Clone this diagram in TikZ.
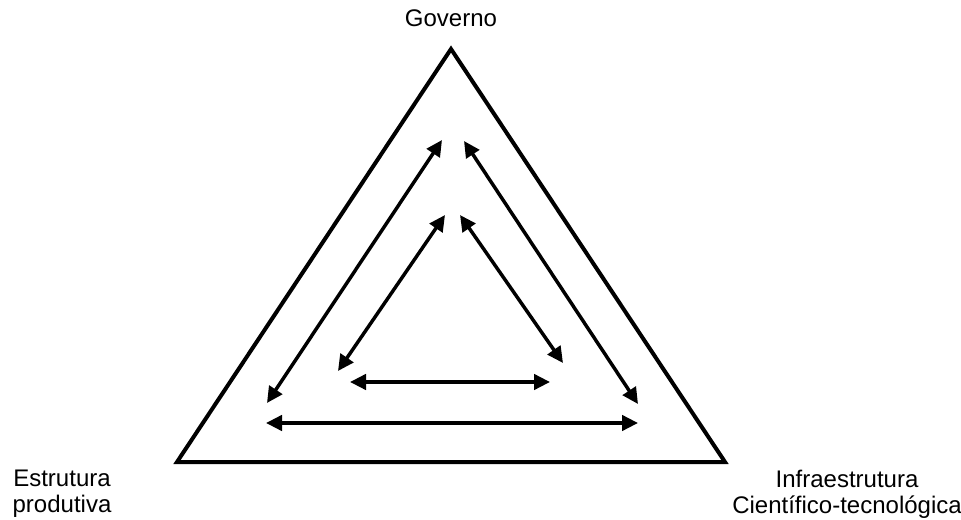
\documentclass[tikz,border=0pt]{standalone}
\usepackage{fontspec}
\setmainfont{Liberation Sans}
\usetikzlibrary{arrows.meta}
\begin{document}
\begin{tikzpicture}[x=0.75pt,y=-0.75pt,font=\fontsize{18}{19.5}\selectfont,
  link/.style={line width=2.6pt,{Triangle[length=12pt,width=11.5pt]}-{Triangle[length=12pt,width=11.5pt]}}]

\useasboundingbox (0,0) rectangle (961,520);

%====================================================
% Triangle
%====================================================
\coordinate (top) at (451,49);
\coordinate (left) at (177,462);
\coordinate (right) at (725,462);
\draw[line width=3pt] (left)--(top)--(right)--cycle;

% Labels
\node (gov) at (451,18) {Governo};
\node[align=center] (prod) at (62,494) {Estrutura\\produtiva};
\node[align=center] (infra) at (847,494) {Infraestrutura\\Científico-tecnológica};

%====================================================
% Outer arrows
%====================================================
\coordinate (ol1) at (267,403);
\coordinate (ol2) at (442,140);
\coordinate (or1) at (464,141);
\coordinate (or2) at (638,404);
\coordinate (ob1) at (266,423);
\coordinate (ob2) at (638,423);

\draw[link] (ol1)--(ol2);
\draw[link] (or1)--(or2);
\draw[link] (ob1)--(ob2);

%====================================================
% Inner arrows
%====================================================
\coordinate (il1) at (338,371);
\coordinate (il2) at (445,215);
\coordinate (ir1) at (460,215);
\coordinate (ir2) at (563,363);
\coordinate (ib1) at (350,382);
\coordinate (ib2) at (550,382);

\draw[link] (il1)--(il2);
\draw[link] (ir1)--(ir2);
\draw[link] (ib1)--(ib2);

\end{tikzpicture}
\end{document}
